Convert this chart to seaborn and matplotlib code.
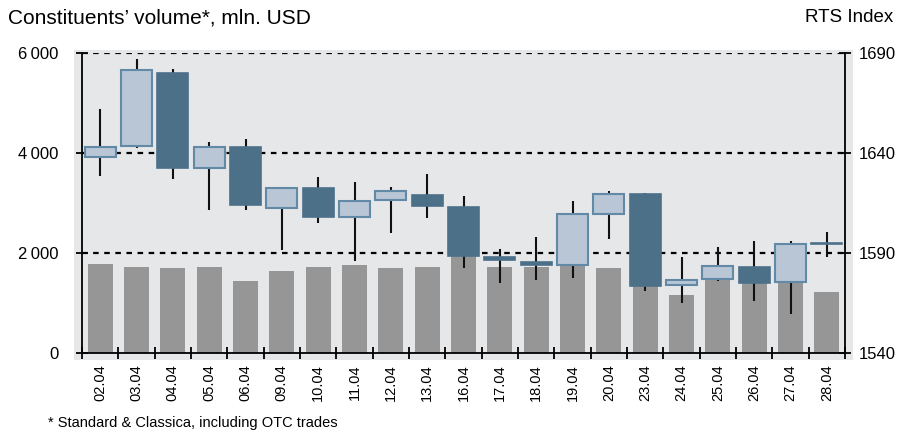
import numpy as np
import pandas as pd
import seaborn as sns
import matplotlib.pyplot as plt
from matplotlib.patches import Rectangle

# data
dates = ["02.04", "03.04", "04.04", "05.04", "06.04", "09.04", "10.04", "11.04",
         "12.04", "13.04", "16.04", "17.04", "18.04", "19.04", "20.04", "23.04",
         "24.04", "25.04", "26.04", "27.04", "28.04"]
volume = [1780, 1720, 1700, 1720, 1440, 1640, 1720, 1760, 1700, 1720, 1950,
          1720, 1720, 1750, 1700, 1380, 1160, 1500, 1400, 1400, 1220]
rts_open = [1638, 1643.5, 1680, 1632.5, 1643, 1612.5, 1622.5, 1608, 1616.5, 1619,
            1613, 1588, 1585.5, 1584, 1609.5, 1619.5, 1574, 1577, 1583, 1575.5, 1594.8]
rts_close = [1643, 1681.5, 1632.5, 1643, 1614, 1622.5, 1608, 1616, 1621, 1613.5,
             1588.5, 1586.5, 1584, 1609.5, 1619.5, 1573.5, 1576.5, 1583.5, 1575, 1594.5, 1594.4]
rts_high = [1662, 1687, 1682, 1645.5, 1647, 1622.5, 1628, 1625.5, 1623, 1629.5,
            1618.5, 1592, 1598, 1616, 1621, 1620, 1588, 1593, 1596, 1596, 1600.5]
rts_low = [1628.5, 1642.5, 1627, 1611.5, 1611.5, 1591.5, 1605, 1586, 1600, 1607.5,
           1582.5, 1575, 1576.5, 1577.5, 1597, 1571, 1565, 1576, 1566, 1559.5, 1588]

sns.set_theme(style="white")
plt.rcParams['font.family'] = ['Liberation Sans', 'DejaVu Sans']
plt.rcParams['text.color'] = 'black'

df = pd.DataFrame({"date": dates, "volume": volume})

fig = plt.figure(figsize=(9.02, 4.32), dpi=100)
# grey panel behind the plot, slightly larger than the axes
fig.patches.append(Rectangle((74 / 902, 1 - 360 / 432), 779 / 902, 310 / 432,
                             transform=fig.transFigure, facecolor="#e6e7e9",
                             edgecolor="none", zorder=-1))
ax = fig.add_axes([82 / 902, 1 - 353 / 432, 763 / 902, 300 / 432])
ax.set_facecolor("none")

sns.barplot(data=df, x="date", y="volume", color="#969696", width=0.69,
            saturation=1, linewidth=0, edgecolor="none", ax=ax, zorder=2)
ax.set_xlim(-0.5, len(dates) - 0.5)
ax.set_ylim(0, 6000)
ax.set_yticks([0, 2000, 4000, 6000])
ax.set_yticklabels(["0", "2\u2009000", "4\u2009000", "6\u2009000"])
for v in [2000, 4000, 6000]:
    ax.axhline(v, color="black", lw=1.6, ls=(0, (2.5, 2.5)), zorder=3)
ax.set_xlabel("")
ax.set_ylabel("")
ax.tick_params(axis="y", direction="inout", length=8, width=1.3, pad=13,
               labelsize=12, colors="black", left=True)
ax.tick_params(axis="x", which="major", length=0, pad=8, labelsize=10.5,
               labelrotation=90, labelcolor="black")
ax.set_xticks(np.arange(-0.5, len(dates)), minor=True)
ax.tick_params(axis="x", which="minor", direction="inout", length=8, width=1.3,
               bottom=True, color="black")
for s in ["top", "right"]:
    ax.spines[s].set_visible(False)
for s in ["left", "bottom"]:
    ax.spines[s].set_color("black")
    ax.spines[s].set_linewidth(1.3)

# candles on the RTS index axis
ax2 = ax.twinx()
ax2.set_ylim(1540, 1690)
ax2.set_yticks([1540, 1590, 1640, 1690])
ax2.tick_params(axis="y", direction="inout", length=8, width=1.3, pad=6,
                labelsize=12, colors="black", right=True)
for s in ["top", "left", "bottom"]:
    ax2.spines[s].set_visible(False)
ax2.spines["right"].set_color("black")
ax2.spines["right"].set_linewidth(1.3)

x = np.arange(len(dates))
o = np.array(rts_open)
c = np.array(rts_close)
up = c >= o
ax2.vlines(x, rts_low, rts_high, color="#111111", lw=1.5, zorder=2)
ax2.bar(x[up], (c - o)[up], bottom=o[up], width=0.85, color="#b8c6d6",
        edgecolor="#628aa6", linewidth=1.5, zorder=3)
ax2.bar(x[~up], (o - c)[~up], bottom=c[~up], width=0.85, color="#4d7089",
        edgecolor="#4d7089", linewidth=1.2, zorder=3)

fig.text(8 / 902, 1 - 18 / 432, "Constituents\u2019 volume*, mln. USD",
         fontsize=15, ha="left", va="center", color="black")
fig.text(893 / 902, 1 - 18 / 432, "RTS Index", fontsize=13.5, ha="right",
         va="center", color="black")
fig.text(48 / 902, 1 - 423 / 432, "* Standard & Classica, including OTC trades",
         fontsize=10.5, ha="left", va="center", color="black",
         family=["Liberation Sans Narrow", "DejaVu Sans Condensed",
                 "Liberation Sans"])

fig.savefig("out.png", dpi=100)
